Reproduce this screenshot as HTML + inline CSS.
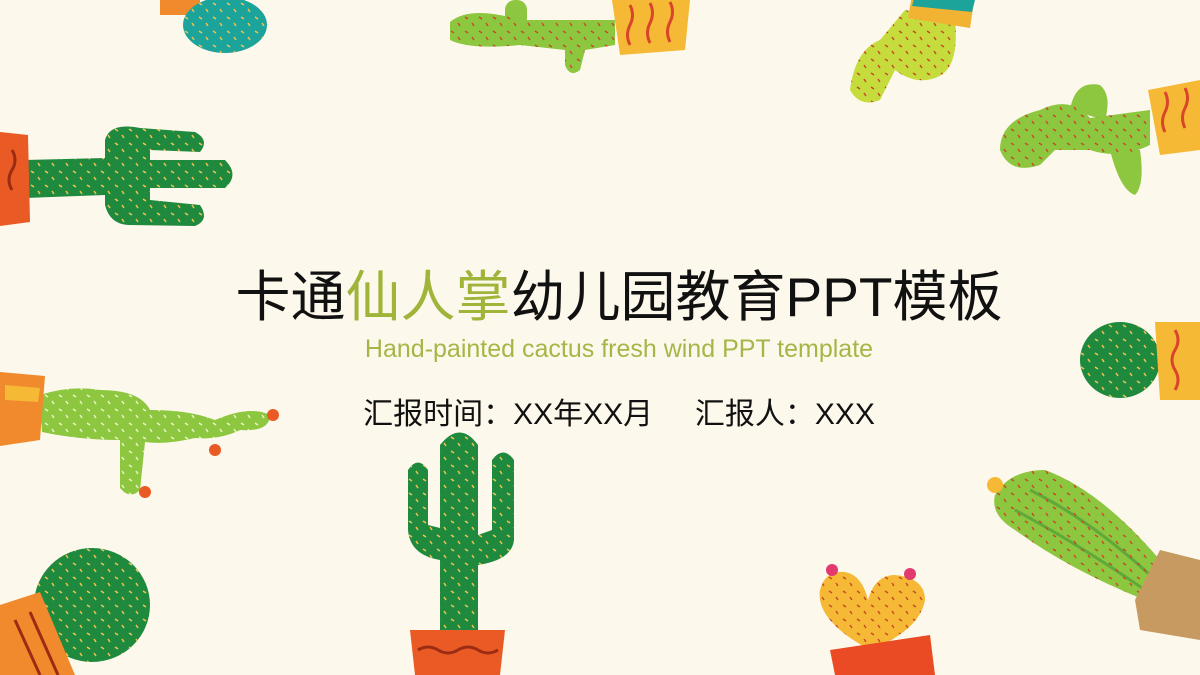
<!DOCTYPE html>
<html><head><meta charset="utf-8"><style>
html,body{margin:0;padding:0}
body{width:1200px;height:675px;overflow:hidden;background:#fdf8ec;position:relative;font-family:"Liberation Sans","Noto Sans CJK SC",sans-serif}
svg{position:absolute;left:0;top:0}
.t{position:absolute;left:19px;width:1200px;text-align:center;white-space:nowrap}
</style></head><body>
<svg width="1200" height="675">
<defs>
<pattern id="dotsY" width="14" height="14" patternUnits="userSpaceOnUse"><path d="M3 3l3 2M10 9l2 3" stroke="#f2c14e" stroke-width="1.5"/></pattern>
<pattern id="dotsW" width="14" height="14" patternUnits="userSpaceOnUse"><path d="M3 3l3 2M10 9l2 3" stroke="#e8f3c8" stroke-width="1.5"/></pattern>
<pattern id="dotsR" width="14" height="14" patternUnits="userSpaceOnUse"><path d="M3 3l3 2M10 9l2 3" stroke="#c94a2a" stroke-width="1.5"/></pattern>
</defs>
<g>
<rect x="160" y="-10" width="40" height="25" fill="#f08a2c"/>
<ellipse cx="225" cy="25" rx="42" ry="28" fill="#1ca39a"/><ellipse cx="225" cy="25" rx="42" ry="28" fill="url(#dotsY)"/>
</g>
<g>
<path d="M450 22 Q470 5 520 20 L615 20 L615 45 L585 50 L580 70 Q570 78 565 65 L565 50 L520 45 Q470 50 450 40Z" fill="#8dc63f"/>
<rect x="505" y="0" width="22" height="30" rx="10" fill="#8dc63f"/>
<path d="M450 22 Q470 5 520 20 L615 20 L615 45 L585 50 L580 70 Q570 78 565 65 L565 50 L520 45 Q470 50 450 40Z" fill="url(#dotsR)"/>
<path d="M612 0 L690 0 L685 50 L620 55Z" fill="#f6b935"/>
<path d="M630 5 q5 10 0 20 q-5 10 0 20 M650 3 q5 10 0 20 q-5 10 0 20 M670 2 q5 10 0 20 q-5 10 0 20" stroke="#d9452b" stroke-width="3" fill="none"/>
</g>
<g>
<path d="M905 10 L955 20 Q960 70 935 78 Q915 85 895 70 L880 100 Q860 108 850 90 Q855 50 880 40Z" fill="#c6dc3c"/>
<path d="M905 10 L955 20 Q960 70 935 78 Q915 85 895 70 L880 100 Q860 108 850 90 Q855 50 880 40Z" fill="url(#dotsR)"/>
<path d="M912 -5 L975 -5 L970 28 L908 18Z" fill="#f2b232"/>
<path d="M915 -5 L975 0 L972 12 L912 6Z" fill="#1ca39a"/>
</g>
<g>
<path d="M1150 110 L1090 118 Q1070 95 1040 110 Q1000 120 1000 150 Q1010 175 1040 165 L1055 150 L1090 150 Q1120 160 1150 145Z" fill="#8dc63f"/>
<path d="M1070 110 Q1075 80 1100 85 Q1112 95 1105 120Z" fill="#8dc63f"/>
<path d="M1110 150 Q1120 190 1135 195 Q1145 185 1140 150Z" fill="#8dc63f"/>
<path d="M1150 110 L1090 118 Q1070 95 1040 110 Q1000 120 1000 150 Q1010 175 1040 165 L1055 150 L1090 150 Q1120 160 1150 145Z" fill="url(#dotsR)"/>
<path d="M1148 90 L1200 80 L1200 150 L1160 155Z" fill="#f6b935"/>
<path d="M1165 92 q5 10 0 20 q-5 10 0 20 M1185 88 q5 10 0 20 q-5 10 0 20" stroke="#d9452b" stroke-width="3" fill="none"/>
</g>
<g>
<path d="M25 160 L105 158 L105 140 Q110 122 140 128 L195 132 Q210 140 200 152 L150 150 L150 160 L225 160 Q240 175 225 188 L150 188 L150 200 L200 205 Q210 220 195 226 L130 225 Q110 225 105 205 L105 195 L25 198Z" fill="#1f8a3e"/>
<path d="M25 160 L105 158 L105 140 Q110 122 140 128 L195 132 Q210 140 200 152 L150 150 L150 160 L225 160 Q240 175 225 188 L150 188 L150 200 L200 205 Q210 220 195 226 L130 225 Q110 225 105 205 L105 195 L25 198Z" fill="url(#dotsY)"/>
<path d="M0 132 L28 135 L30 222 L0 226Z" fill="#ea5a24"/>
<path d="M12 150 q6 10 0 20 q-6 10 0 20" stroke="#9c2b14" stroke-width="3" fill="none"/>
</g>
<g>
<ellipse cx="1120" cy="360" rx="40" ry="38" fill="#1f8a3e"/><ellipse cx="1120" cy="360" rx="40" ry="38" fill="url(#dotsY)"/>
<path d="M1155 322 L1200 322 L1200 400 L1160 400Z" fill="#f6b935"/>
<path d="M1175 330 q6 10 0 20 q-6 10 0 20 q6 10 0 20" stroke="#d9452b" stroke-width="3" fill="none"/>
</g>
<g>
<path d="M40 395 Q70 385 100 390 Q140 390 150 410 Q190 410 215 420 Q250 405 270 415 Q270 432 240 430 Q220 440 195 438 Q165 445 145 442 L140 490 Q130 500 120 488 L120 440 Q80 440 42 432Z" fill="#8dc63f"/>
<path d="M40 395 Q70 385 100 390 Q140 390 150 410 Q190 410 215 420 Q250 405 270 415 Q270 432 240 430 Q220 440 195 438 Q165 445 145 442 L140 490 Q130 500 120 488 L120 440 Q80 440 42 432Z" fill="url(#dotsW)"/>
<circle cx="273" cy="415" r="6" fill="#ea5a24"/><circle cx="145" cy="492" r="6" fill="#ea5a24"/><circle cx="215" cy="450" r="6" fill="#ea5a24"/>
<path d="M0 372 L45 376 L40 440 L0 446Z" fill="#f08a2c"/>
<path d="M5 385 L40 388 L38 402 L5 400Z" fill="#f6b935"/>
</g>
<g>
<path d="M440 445 Q460 420 478 445 L478 535 L492 530 L492 460 Q503 445 514 460 L514 540 Q512 560 478 565 L478 635 L440 635 L440 560 Q410 555 408 530 L408 470 Q418 455 428 470 L428 525 L440 528Z" fill="#1f8a3e"/>
<path d="M440 445 Q460 420 478 445 L478 535 L492 530 L492 460 Q503 445 514 460 L514 540 Q512 560 478 565 L478 635 L440 635 L440 560 Q410 555 408 530 L408 470 Q418 455 428 470 L428 525 L440 528Z" fill="url(#dotsY)"/>
<path d="M410 630 L505 630 L500 675 L415 675Z" fill="#ea5a24"/>
<path d="M418 650 q10 -6 20 0 q10 6 20 0 q10 -6 20 0 q10 6 20 0" stroke="#9c2b14" stroke-width="3" fill="none"/>
</g>
<g>
<ellipse cx="92" cy="605" rx="58" ry="57" fill="#1f8a3e"/><ellipse cx="92" cy="605" rx="58" ry="57" fill="url(#dotsY)"/>
<path d="M0 605 L40 592 L75 675 L0 675Z" fill="#f08a2c"/>
<path d="M15 620 L40 675 M30 612 L58 675" stroke="#9c2b14" stroke-width="3"/>
</g>
<g>
<path d="M870 650 Q815 620 820 590 Q825 570 845 572 Q862 575 868 600 Q875 575 895 575 Q925 578 925 600 Q920 630 870 650Z" fill="#f6b935"/>
<path d="M870 650 Q815 620 820 590 Q825 570 845 572 Q862 575 868 600 Q875 575 895 575 Q925 578 925 600 Q920 630 870 650Z" fill="url(#dotsR)"/>
<circle cx="832" cy="570" r="6" fill="#e23a6f"/><circle cx="910" cy="574" r="6" fill="#e23a6f"/>
<path d="M830 650 L930 635 L935 675 L835 675Z" fill="#ea4a24"/>
</g>
<g>
<path d="M995 495 Q1010 470 1045 470 Q1100 490 1160 560 L1145 600 Q1070 570 1015 530 Q990 515 995 495Z" fill="#8dc63f"/>
<path d="M1030 490 Q1090 520 1150 575 M1015 510 Q1080 545 1145 590" stroke="#5fa83a" stroke-width="3" fill="none"/>
<path d="M995 495 Q1010 470 1045 470 Q1100 490 1160 560 L1145 600 Q1070 570 1015 530 Q990 515 995 495Z" fill="url(#dotsR)"/>
<circle cx="995" cy="485" r="8" fill="#f6b935"/>
<path d="M1160 550 L1200 560 L1200 640 L1140 630 L1135 600Z" fill="#c79a62"/>
</g>
</svg>
<div class="t" style="top:252px;font-size:55px;color:#111;">卡通<span style="color:#a0b43a">仙人掌</span>幼儿园教育PPT模板</div>
<div class="t" style="top:335px;font-size:25px;color:#a6b646;">Hand-painted cactus fresh wind PPT template</div>
<div class="t" style="top:389px;font-size:30px;color:#111;">汇报时间：XX年XX月&nbsp;&nbsp;&nbsp;&nbsp;&nbsp;汇报人：XXX</div>
</body></html>
